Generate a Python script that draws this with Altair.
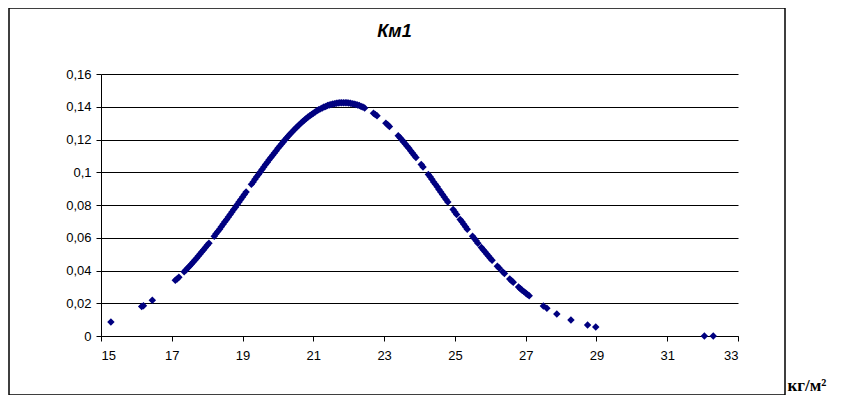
import altair as alt
import pandas as pd

# BMI values (kg/m^2)
bmi = [15.28, 16.15, 16.2, 16.45,
       17.1, 17.15, 17.2, 17.35, 17.4, 17.45, 17.5, 17.55, 17.6, 17.65, 17.7, 17.75, 17.8, 17.85,
       17.9, 17.95, 18.0, 18.05, 18.2, 18.25, 18.3, 18.35, 18.4, 18.45, 18.5, 18.55, 18.6, 18.65,
       18.7, 18.75, 18.8, 18.85, 18.9, 18.95, 19.0, 19.05, 19.1, 19.25, 19.3, 19.35, 19.4, 19.45,
       19.5, 19.55, 19.6, 19.65, 19.7, 19.75, 19.8, 19.85, 19.9, 19.95, 20.0, 20.05, 20.1, 20.15,
       20.2, 20.25, 20.3, 20.35, 20.4, 20.45, 20.5, 20.55, 20.6, 20.65, 20.7, 20.75, 20.8, 20.85,
       20.9, 20.95, 21.0, 21.05, 21.1, 21.15, 21.2, 21.25, 21.3, 21.35, 21.4, 21.45, 21.5, 21.55,
       21.6, 21.65, 21.7, 21.75, 21.8, 21.85,
       21.9, 21.95, 22.0, 22.05, 22.1, 22.15, 22.2, 22.25, 22.3, 22.35, 22.4, 22.45,
       22.7, 22.75, 22.8, 23.05, 23.1, 23.15, 23.4, 23.45, 23.5, 23.55, 23.6, 23.65, 23.7, 23.75,
       23.8, 23.85, 23.9, 24.05, 24.1, 24.25, 24.3, 24.35, 24.4, 24.45, 24.5, 24.55, 24.6, 24.65,
       24.7, 24.75, 24.8, 24.95, 25.0, 25.05, 25.15, 25.2, 25.25, 25.3, 25.35, 25.5, 25.55, 25.6,
       25.65, 25.75, 25.8, 25.85, 25.9, 25.95, 26.0, 26.05, 26.2, 26.25, 26.35, 26.4, 26.55, 26.6,
       26.65, 26.8, 26.85, 26.9, 26.95, 27.0, 27.05, 27.1,
       27.5, 27.6, 27.88, 28.28, 28.75, 28.98, 32.05, 32.3]

# density values
density = [0.0085, 0.0180, 0.0185, 0.0218,
           0.0340, 0.0348, 0.0359, 0.0392, 0.0403, 0.0415, 0.0426, 0.0438, 0.0450, 0.0463, 0.0475, 0.0488, 0.0501, 0.0514,
           0.0527, 0.0540, 0.0554, 0.0567, 0.0609, 0.0624, 0.0638, 0.0652, 0.0667, 0.0682, 0.0697, 0.0712, 0.0727, 0.0742,
           0.0757, 0.0772, 0.0787, 0.0803, 0.0818, 0.0833, 0.0849, 0.0864, 0.0880, 0.0926, 0.0941, 0.0957, 0.0972, 0.0987,
           0.1002, 0.1017, 0.1032, 0.1047, 0.1061, 0.1076, 0.1090, 0.1104, 0.1118, 0.1132, 0.1146, 0.1159, 0.1172, 0.1185,
           0.1198, 0.1210, 0.1223, 0.1235, 0.1246, 0.1258, 0.1269, 0.1279, 0.1290, 0.1300, 0.1310, 0.1319, 0.1328, 0.1337,
           0.1345, 0.1353, 0.1361, 0.1368, 0.1375, 0.1381, 0.1387, 0.1393, 0.1398, 0.1402, 0.1407, 0.1411, 0.1414, 0.1417,
           0.1419, 0.1421, 0.1423, 0.1424, 0.1425, 0.1425,
           0.1425, 0.1424, 0.1423, 0.1421, 0.1419, 0.1417, 0.1414, 0.1411, 0.1407, 0.1402, 0.1398, 0.1393,
           0.1361, 0.1353, 0.1345, 0.1300, 0.1290, 0.1279, 0.1223, 0.1210, 0.1198, 0.1185, 0.1172, 0.1159, 0.1146, 0.1132,
           0.1118, 0.1104, 0.1090, 0.1047, 0.1032, 0.0987, 0.0972, 0.0957, 0.0941, 0.0926, 0.0911, 0.0895, 0.0880, 0.0864,
           0.0849, 0.0833, 0.0818, 0.0772, 0.0757, 0.0742, 0.0712, 0.0697, 0.0682, 0.0667, 0.0652, 0.0609, 0.0595, 0.0581,
           0.0567, 0.0540, 0.0527, 0.0514, 0.0501, 0.0488, 0.0475, 0.0463, 0.0426, 0.0415, 0.0392, 0.0381, 0.0348, 0.0338,
           0.0328, 0.0299, 0.0289, 0.0280, 0.0271, 0.0263, 0.0254, 0.0246,
           0.0183, 0.0170, 0.0134, 0.0098, 0.0067, 0.0055, 0.0, 0.0]

x_ticks = [15, 17, 19, 21, 23, 25, 27, 29, 31, 33]
y_ticks = [0, 0.02, 0.04, 0.06, 0.08, 0.1, 0.12, 0.14, 0.16]

df = pd.DataFrame({"bmi": bmi, "density": density})

points = alt.Chart(df).mark_point(
    shape="diamond", filled=True, size=56, color="#000080", opacity=1
).encode(
    x=alt.X("bmi:Q",
            scale=alt.Scale(domain=[15, 33], nice=False, zero=False),
            axis=alt.Axis(values=x_ticks, grid=False, tickSize=5, tickColor="black",
                          domainColor="black", labelFont="Liberation Sans", labelFontSize=13,
                          labelColor="black", labelPadding=8,
                          title="кг/м²", titleX=686, titleY=54, titleAlign="left",
                          titleBaseline="alphabetic", titleFont="Liberation Serif",
                          titleFontSize=17, titleFontWeight="bold", titleColor="black")),
    y=alt.Y("density:Q",
            scale=alt.Scale(domain=[0, 0.16], nice=False),
            axis=alt.Axis(values=y_ticks, grid=True, gridColor="black", gridWidth=1,
                          tickSize=5, tickColor="black", domainColor="black",
                          labelFont="Liberation Sans", labelFontSize=13, labelColor="black",
                          labelPadding=5,
                          labelExpr="replace(toString(round(datum.value*100)/100), '.', ',')",
                          title=None)),
)

border = alt.Chart(alt.Data(values=[{}])).mark_rect(
    fillOpacity=0, stroke="black", strokeWidth=1.5
).encode(
    x=alt.value(-92), x2=alt.value(684), y=alt.value(-66), y2=alt.value(321)
)

chart = alt.layer(border, points).properties(
    width=637, height=262,
    autosize=alt.AutoSizeParams(type="none"),
    padding={"left": 93, "top": 66, "right": 96, "bottom": 59},
    title=alt.TitleParams(text="Км1", font="Liberation Sans", fontSize=18, fontStyle="italic",
                          fontWeight="bold", anchor="middle", frame="group", dx=-25,
                          offset=0, dy=48, baseline="alphabetic", color="black"),
).configure_view(stroke=None)

chart.save("out.html", embed_options={"renderer": "svg", "actions": False})
